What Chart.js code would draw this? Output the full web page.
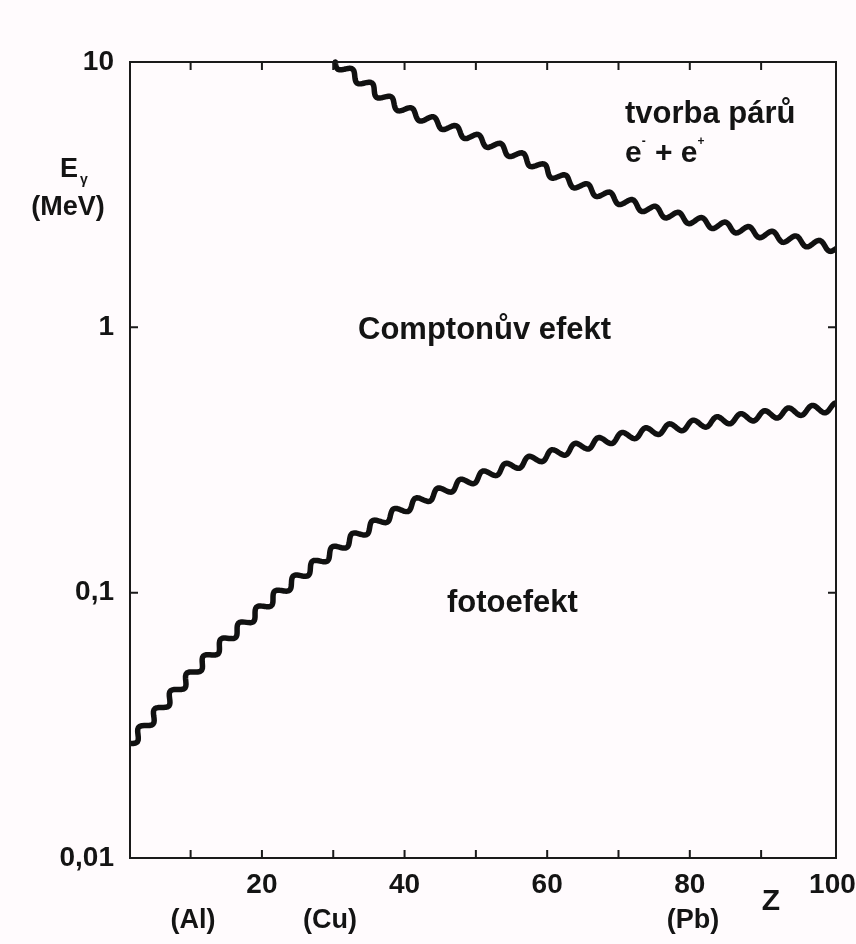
<!DOCTYPE html>
<html>
<head>
<meta charset="utf-8">
<script src="https://cdn.jsdelivr.net/npm/chart.js@4.4.1/dist/chart.umd.min.js"></script>
<style>
  html, body { margin: 0; padding: 0; background: #fffbfd; }
  #wrap { width: 856px; height: 944px; }
</style>
</head>
<body>
<div id="wrap"><canvas id="chart"></canvas></div>
<script>
// boundary photo effect / Compton effect
const zLower = [1.5, 11.3, 19.5, 25.3, 32.4, 40, 50, 60.3, 70.2, 80.5, 90.6, 100.5];
const eLower = [0.027, 0.053, 0.085, 0.115, 0.158, 0.208, 0.27, 0.33, 0.385, 0.43, 0.467, 0.5];

// boundary Compton effect / pair production
const zUpper = [30.3, 33.8, 39.4, 46.4, 56.2, 63.3, 75.8, 89.9, 100.5];
const eUpper = [10, 8.55, 6.76, 5.64, 4.4, 3.53, 2.72, 2.26, 1.99];

const xTickValues = [20, 40, 60, 80, 100];
const yTickValues = [0.01, 0.1, 1, 10];
const yTickLabels = ["0,01", "0,1", "1", "10"];

const FONT = '"Liberation Sans", Arial, sans-serif';

const toPoints = (xs, ys) => xs.map((x, i) => ({ x: x, y: ys[i] }));

// background
const paper = {
    id: "paper",
    beforeDraw(chart) {
        const ctx = chart.ctx;
        ctx.save();
        ctx.fillStyle = "#fffbfd";
        ctx.fillRect(0, 0, chart.width, chart.height);
        ctx.restore();
    }
};

// draws the curves as wavy lines along the spline chart.js computes
const wavyLine = {
    id: "wavyLine",
    afterDatasetsDraw(chart) {
        const ctx = chart.ctx;
        const area = chart.chartArea;
        const period = 24, amp = 4.4;
        ctx.save();
        ctx.beginPath();
        ctx.rect(area.left, area.top - 4, area.right - area.left, area.bottom - area.top + 4);
        ctx.clip();
        chart.data.datasets.forEach((ds, i) => {
            const meta = chart.getDatasetMeta(i);
            meta.dataset.updateControlPoints(area);
            const pts = meta.data;
            const path = [];
            for (let j = 0; j < pts.length - 1; j++) {
                const a = pts[j], b = pts[j + 1];
                const c1x = a.cp2x ?? a.x, c1y = a.cp2y ?? a.y;
                const c2x = b.cp1x ?? b.x, c2y = b.cp1y ?? b.y;
                for (let k = 0; k < 60; k++) {
                    const t = k / 60, u = 1 - t;
                    path.push({
                        x: u * u * u * a.x + 3 * u * u * t * c1x + 3 * u * t * t * c2x + t * t * t * b.x,
                        y: u * u * u * a.y + 3 * u * u * t * c1y + 3 * u * t * t * c2y + t * t * t * b.y
                    });
                }
            }
            path.push({ x: pts[pts.length - 1].x, y: pts[pts.length - 1].y });

            ctx.beginPath();
            let s = 0;
            for (let k = 0; k < path.length; k++) {
                const p0 = path[Math.max(0, k - 1)], p1 = path[Math.min(path.length - 1, k + 1)];
                let tx = p1.x - p0.x, ty = p1.y - p0.y;
                const len = Math.hypot(tx, ty) || 1;
                tx /= len; ty /= len;
                if (k > 0) s += Math.hypot(path[k].x - path[k - 1].x, path[k].y - path[k - 1].y);
                const off = amp * Math.sin(2 * Math.PI * s / period);
                const x = path[k].x - ty * off, y = path[k].y + tx * off;
                if (k === 0) ctx.moveTo(x, y); else ctx.lineTo(x, y);
            }
            ctx.lineWidth = 5.5;
            ctx.strokeStyle = "#111111";
            ctx.lineJoin = "round";
            ctx.lineCap = "round";
            ctx.stroke();
        });
        ctx.restore();
    }
};

// frame, inward ticks and texts
const frame = {
    id: "frame",
    afterDraw(chart) {
        const ctx = chart.ctx;
        const a = chart.chartArea;
        const xs = chart.scales.x, ys = chart.scales.y;
        ctx.save();
        ctx.strokeStyle = "#1a1a1a";
        ctx.lineWidth = 2;
        ctx.strokeRect(a.left, a.top, a.right - a.left, a.bottom - a.top);

        ctx.beginPath();
        for (let v = 10; v <= 90; v += 10) {
            const px = xs.getPixelForValue(v);
            ctx.moveTo(px, a.bottom); ctx.lineTo(px, a.bottom - 8);
            ctx.moveTo(px, a.top); ctx.lineTo(px, a.top + 8);
        }
        [0.1, 1].forEach(v => {
            const py = ys.getPixelForValue(v);
            ctx.moveTo(a.left, py); ctx.lineTo(a.left + 8, py);
            ctx.moveTo(a.right, py); ctx.lineTo(a.right - 8, py);
        });
        ctx.stroke();

        ctx.fillStyle = "#141414";
        ctx.textBaseline = "alphabetic";
        ctx.textAlign = "left";
        ctx.font = "bold 31px " + FONT;
        ctx.fillText("Comptonův efekt", 358, 339);
        ctx.fillText("fotoefekt", 447, 612);
        ctx.fillText("tvorba párů", 625, 123);

        // e- + e+
        ctx.font = "bold 30px " + FONT;
        let x = 625;
        ctx.fillText("e", x, 162);
        x += ctx.measureText("e").width;
        ctx.font = "bold 12px " + FONT;
        ctx.fillText("-", x, 145);
        x += 5;
        ctx.font = "bold 30px " + FONT;
        ctx.fillText(" + e", x, 162);
        x += ctx.measureText(" + e").width;
        ctx.font = "bold 12px " + FONT;
        ctx.fillText("+", x, 145);

        // y axis title
        ctx.font = "bold 27px " + FONT;
        ctx.fillText("E", 60, 177);
        ctx.font = "bold 14px " + FONT;
        ctx.fillText("γ", 80, 184);
        ctx.textAlign = "center";
        ctx.font = "bold 27px " + FONT;
        ctx.fillText("(MeV)", 68, 215);

        // x axis title and elements
        ctx.font = "bold 30px " + FONT;
        ctx.fillText("Z", 771, 910);
        ctx.font = "bold 27px " + FONT;
        ctx.fillText("(Al)", 193, 928);
        ctx.fillText("(Cu)", 330, 928);
        ctx.fillText("(Pb)", 693, 928);
        ctx.restore();
    }
};

new Chart(document.getElementById("chart").getContext("2d"), {
    type: "line",
    data: {
        datasets: [
            { data: toPoints(zLower, eLower) },
            { data: toPoints(zUpper, eUpper) }
        ]
    },
    options: {
        responsive: true,
        maintainAspectRatio: false,
        animation: false,
        events: [],
        layout: {
            padding: { left: 0, right: 20, top: 62, bottom: 0 }
        },
        elements: {
            line: { tension: 0.4, borderWidth: 1, borderColor: "rgba(0,0,0,0)", fill: false },
            point: { radius: 0 }
        },
        plugins: {
            legend: { display: false },
            tooltip: { enabled: false }
        },
        scales: {
            x: {
                type: "linear",
                min: 1.5,
                max: 100.5,
                afterBuildTicks: (scale) => { scale.ticks = xTickValues.map(v => ({ value: v })); },
                afterFit: (scale) => {
                    scale.height = 86;
                    scale.paddingLeft = 0;
                    scale.paddingRight = 0;
                },
                grid: { display: false, drawTicks: false },
                border: { display: false },
                ticks: {
                    padding: 10,
                    color: "#141414",
                    font: { family: FONT, size: 28, weight: "bold" },
                    maxRotation: 0,
                    autoSkip: false
                }
            },
            y: {
                type: "logarithmic",
                min: 0.01,
                max: 10,
                afterBuildTicks: (scale) => { scale.ticks = yTickValues.map(v => ({ value: v })); },
                afterFit: (scale) => {
                    scale.width = 130;
                    scale.paddingTop = 0;
                    scale.paddingBottom = 0;
                },
                grid: { display: false, drawTicks: false },
                border: { display: false },
                ticks: {
                    padding: 16,
                    color: "#141414",
                    font: { family: FONT, size: 28, weight: "bold" },
                    autoSkip: false,
                    callback: (v) => yTickLabels[yTickValues.indexOf(v)]
                }
            }
        }
    },
    plugins: [paper, wavyLine, frame]
});
</script>
</body>
</html>
